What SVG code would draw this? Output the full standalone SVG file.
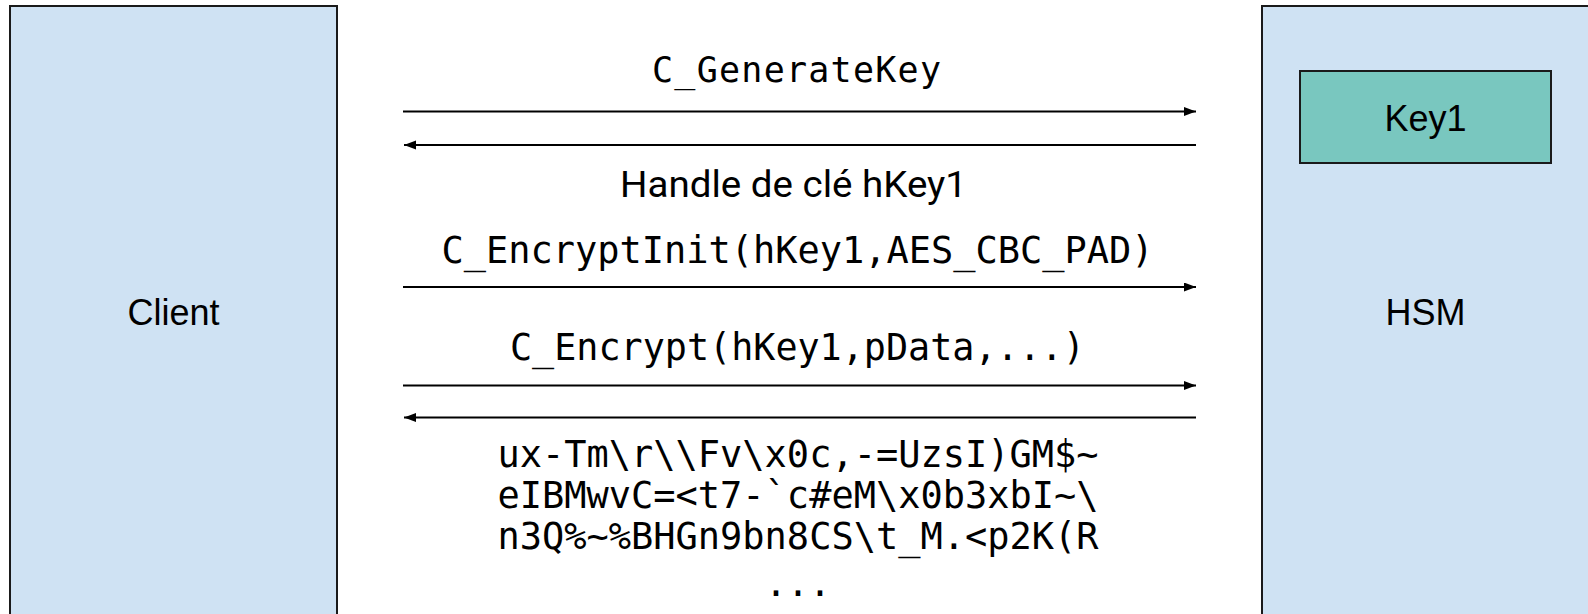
<svg xmlns="http://www.w3.org/2000/svg" width="1588" height="614" viewBox="0 0 1588 614">
  <style>
    .box { fill: #cfe2f3; stroke: #1a1a1a; stroke-width: 2; }
    .key { fill: #79c7bf; stroke: #1a1a1a; stroke-width: 2; }
    .label { font-family: "Liberation Sans", Arial, sans-serif; font-size: 36px; fill: #000; text-anchor: middle; }
    .mono { font-family: "DejaVu Sans Mono", "Liberation Mono", monospace; font-size: 37px; fill: #000; text-anchor: middle; }
    .sans { font-family: Roboto, "Liberation Sans", sans-serif; font-size: 36px; fill: #000; }
    .msg { stroke: #000; stroke-width: 2; fill: none; marker-end: url(#head); }
  </style>
  <defs>
    <marker id="head" markerUnits="userSpaceOnUse" markerWidth="13" markerHeight="10" refX="12" refY="4.5" orient="auto">
      <path d="M0,0 L12,4.5 L0,9 Z" fill="#000"/>
    </marker>
  </defs>
  <rect width="1588" height="614" fill="#fff"/>

  <g id="client">
    <rect class="box" x="10" y="6" width="327" height="614"/>
    <text class="label" x="173.5" y="325">Client</text>
  </g>

  <g id="hsm">
    <rect class="box" x="1262" y="6" width="327" height="614"/>
    <text class="label" x="1425.5" y="325">HSM</text>
  </g>

  <g id="key1">
    <rect class="key" x="1300" y="71" width="251" height="92"/>
    <text class="label" x="1425.5" y="131">Key1</text>
  </g>

  <g id="connectors">
    <line class="msg" x1="403" y1="111.5" x2="1196" y2="111.5"/>
    <line class="msg" x1="1196" y1="145" x2="404" y2="145"/>
    <line class="msg" x1="403" y1="287" x2="1196" y2="287"/>
    <line class="msg" x1="403" y1="385.5" x2="1196" y2="385.5"/>
    <line class="msg" x1="1196" y1="417.5" x2="404" y2="417.5"/>
  </g>

  <g id="labels">
    <text class="mono" x="652" y="82" style="font-size:35px;text-anchor:start" textLength="289" lengthAdjust="spacing">C_GenerateKey</text>
    <text class="sans" x="620" y="196.5" textLength="347" lengthAdjust="spacingAndGlyphs">Handle de clé hKey1</text>
    <text class="mono" x="797.5" y="262.5" textLength="712" lengthAdjust="spacingAndGlyphs">C_EncryptInit(hKey1,AES_CBC_PAD)</text>
    <text class="mono" x="797.5" y="360" textLength="575" lengthAdjust="spacingAndGlyphs">C_Encrypt(hKey1,pData,...)</text>
    <text class="mono" x="798" y="467" textLength="601" lengthAdjust="spacingAndGlyphs">ux-Tm\r\\Fv\x0c,-=UzsI)GM$~</text>
    <text class="mono" x="798" y="507.5" textLength="601" lengthAdjust="spacingAndGlyphs">eIBMwvC=&lt;t7-`c#eM\x0b3xbI~\</text>
    <text class="mono" x="798" y="548.5" textLength="601" lengthAdjust="spacingAndGlyphs">n3Q%~%BHGn9bn8CS\t_M.&lt;p2K(R</text>
    <text class="mono" x="798" y="596" textLength="66" lengthAdjust="spacingAndGlyphs">...</text>
  </g>
</svg>
